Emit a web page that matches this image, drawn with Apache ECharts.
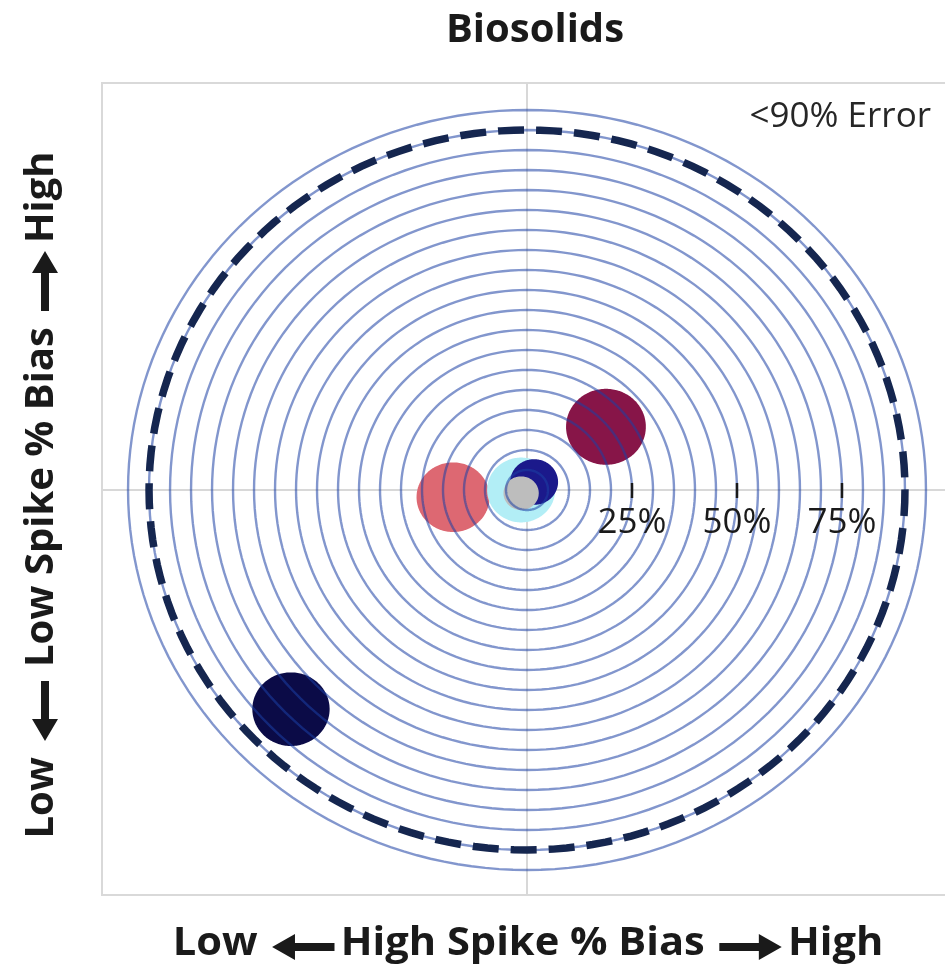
<!DOCTYPE html>
<html>
<head>
<meta charset="utf-8">
<script src="https://cdn.jsdelivr.net/npm/echarts@6/dist/echarts.min.js"></script>
<style>
  html, body { margin: 0; padding: 0; background: #fff; }
  #chart { width: 945px; height: 969px; }
</style>
</head>
<body>
<div id="chart"></div>
<script>
// sample positions in % bias (x = high spike, y = low spike) and bubble radius in % units
const biasHigh = [-56.2, 18.8, -17.6, -1.4, 1.7, -1.4];
const biasLow = [-54.8, 15.8, -1.8, 0.0, 2.0, -0.8];
const bubbleRadius = [9.2, 9.5, 8.7, 8.1, 5.7, 4.2];

// target rings, every 5 %
const ringLevels = [5, 10, 15, 20, 25, 30, 35, 40, 45, 50, 55, 60, 65, 70, 75, 80, 85, 90, 95];
const errorLimit = 90;
const tickValues = [25, 50, 75];
const tickLabels = ['25%', '50%', '75%'];

const palette = ['#0b0b47', '#871548', '#dd6872', '#b2eef6', '#1b198b', '#bdbdbd'];
const fontName = '"Open Sans", sans-serif';
const titleFont = 'bold 40px ' + fontName;
const arrowW = 60;

function ellipse(cx, cy, rx, ry) {
    let pts = [];
    for (let i = 0; i < 180; i++) {
        let a = i / 180 * Math.PI * 2;
        pts.push([cx + rx * Math.cos(a), cy + ry * Math.sin(a)]);
    }
    return pts;
}

// axis titles: words as text, the fat arrows as small polygons
let measureCtx = document.createElement('canvas').getContext('2d');
function textWidth(s) {
    measureCtx.font = titleFont;
    return measureCtx.measureText(s).width;
}
function arrowPts(x, y, dir) {
    let w = arrowW, t = 8, hl = 22, hh = 26;
    let pts = [[0, -t / 2], [w - hl, -t / 2], [w - hl, -hh / 2], [w, 0], [w - hl, hh / 2], [w - hl, t / 2], [0, t / 2]];
    return pts.map(p => [x + (dir > 0 ? p[0] : w - p[0]), y + p[1]]);
}
function axisTitle(pieces) {
    let x = 0, kids = [];
    pieces.forEach(p => {
        if (typeof p === 'string') {
            kids.push({
                type: 'text', x: x, y: 0,
                style: { text: p, font: titleFont, fill: '#1a1a1a', align: 'left', verticalAlign: 'middle' }
            });
            x += textWidth(p);
        } else if (p.arrow) {
            kids.push({ type: 'polygon', shape: { points: arrowPts(x, 3, p.arrow) }, style: { fill: '#1a1a1a' } });
            x += arrowW;
        } else {
            x += p.gap;
        }
    });
    return { type: 'group', x: -x / 2, children: kids };
}

let chart = echarts.init(document.getElementById('chart'));

let ringData = ringLevels.map(r => [0, 0, r]);
let bubbleData = biasHigh.map((x, i) => [x, biasLow[i], bubbleRadius[i]]);
let tickData = tickValues.map(v => [v, 0]);

chart.setOption({
    animation: false,
    backgroundColor: '#fff',
    title: {
        text: 'Biosolids',
        left: 530,
        textAlign: 'center',
        top: 6,
        textStyle: { fontFamily: fontName, fontWeight: 'bold', fontSize: 40, color: '#1a1a1a' }
    },
    grid: {
        left: 102, top: 83, width: 850, height: 812,
        outerBoundsMode: 'none',
        show: true, borderColor: '#d9d9d9', borderWidth: 2, backgroundColor: '#fff'
    },
    xAxis: {
        type: 'value', min: -101.2, max: 101.2,
        axisLine: { onZero: true, lineStyle: { color: '#d8d8d8', width: 2 } },
        axisTick: { show: false }, axisLabel: { show: false }, splitLine: { show: false }
    },
    yAxis: {
        type: 'value', min: -101.25, max: 101.75,
        axisLine: { onZero: true, lineStyle: { color: '#d8d8d8', width: 2 } },
        axisTick: { show: false }, axisLabel: { show: false }, splitLine: { show: false }
    },
    graphic: [
        {
            type: 'group', x: 528, y: 944, scaleX: 1.04,
            children: [axisTitle(['Low', { gap: 14 }, { arrow: -1 }, { gap: 6 }, 'High Spike % Bias', { gap: 14 }, { arrow: 1 }, { gap: 6 }, 'High'])]
        },
        {
            type: 'group', x: 42, y: 495, rotation: Math.PI / 2,
            children: [axisTitle(['Low', { gap: 16 }, { arrow: -1 }, { gap: 14 }, 'Low Spike % Bias', { gap: 16 }, { arrow: 1 }, { gap: 8 }, 'High'])]
        },
        {
            type: 'text', x: 931, y: 117,
            style: {
                text: '<90% Error',
                font: '35px ' + fontName, fill: '#262626',
                align: 'right', verticalAlign: 'middle'
            }
        }
    ],
    series: [
        {
            type: 'custom', z: 2, silent: true,
            data: bubbleData,
            renderItem: function (params, api) {
                let c = api.coord([api.value(0), api.value(1)]);
                let s = api.size([api.value(2), api.value(2)]);
                return {
                    type: 'polygon',
                    shape: { points: ellipse(c[0], c[1], s[0], s[1]) },
                    style: { fill: palette[params.dataIndex] }
                };
            }
        },
        {
            // thin target rings, over the bubbles and half see-through
            type: 'custom', zlevel: 1, z: 3, silent: true,
            data: ringData,
            renderItem: function (params, api) {
                let c = api.coord([0, 0]);
                let s = api.size([api.value(2), api.value(2)]);
                return {
                    type: 'polygon',
                    shape: { points: ellipse(c[0], c[1], s[0], s[1]) },
                    style: { fill: null, stroke: 'rgba(27,64,164,0.55)', lineWidth: 2.4 }
                };
            }
        },
        {
            // <90% error limit
            type: 'custom', zlevel: 1, z: 4, silent: true,
            data: [[0, 0, errorLimit]],
            renderItem: function (params, api) {
                let c = api.coord([0, 0]);
                let s = api.size([api.value(2), api.value(2)]);
                return {
                    type: 'polygon',
                    shape: { points: ellipse(c[0], c[1], s[0], s[1]) },
                    style: { fill: null, stroke: '#15264f', lineWidth: 7.5, lineDash: [26, 12] }
                };
            }
        },
        {
            // % ticks on the horizontal line
            type: 'custom', zlevel: 1, z: 5, silent: true,
            data: tickData,
            renderItem: function (params, api) {
                let p = api.coord([api.value(0), api.value(1)]);
                return {
                    type: 'group',
                    children: [
                        {
                            type: 'line',
                            shape: { x1: p[0], y1: p[1] - 7, x2: p[0], y2: p[1] + 8 },
                            style: { stroke: '#1a1a1a', lineWidth: 2.5 }
                        },
                        {
                            type: 'text',
                            x: p[0], y: p[1] + 16,
                            style: {
                                text: tickLabels[params.dataIndex],
                                font: '35px ' + fontName, fill: '#1a1a1a',
                                align: 'center', verticalAlign: 'top'
                            }
                        }
                    ]
                };
            }
        }
    ]
});
</script>
</body>
</html>
